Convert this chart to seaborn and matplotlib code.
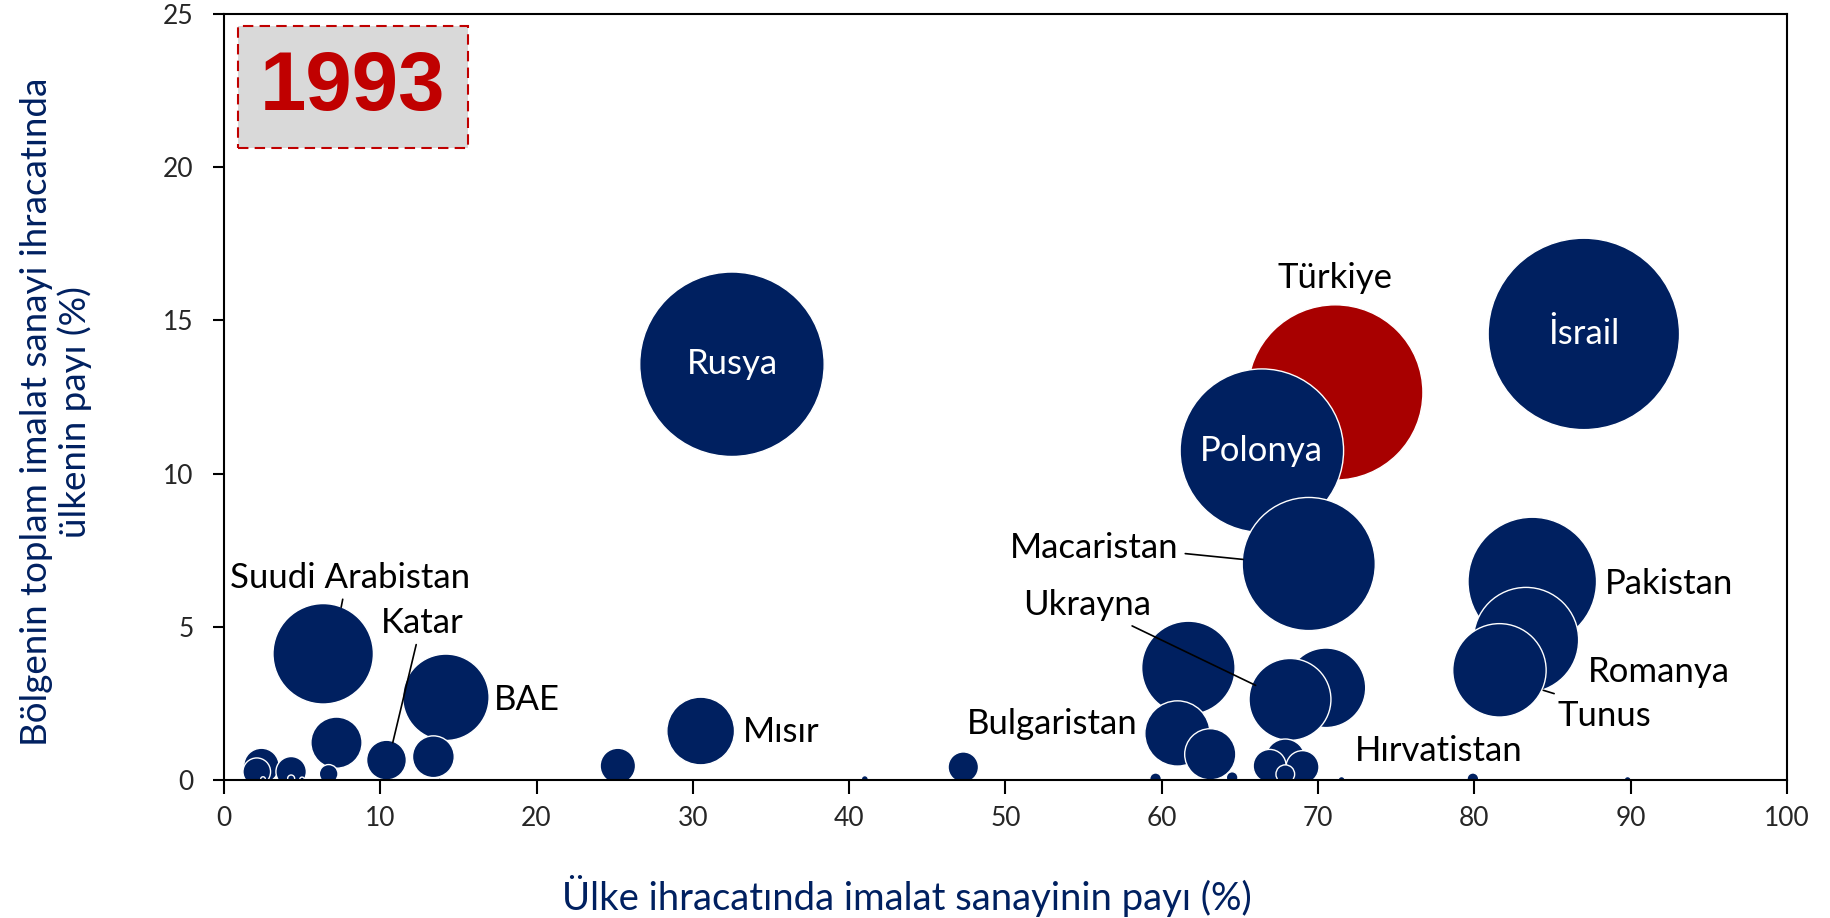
import matplotlib
matplotlib.use('Agg')
import matplotlib.pyplot as plt
import seaborn as sns
import pandas as pd
from matplotlib.patches import Rectangle
from matplotlib import font_manager

# Veriler (çizim sırasına göre; üst üste binme sırası önemli)
ulkeler = ['İsrail', 'Rusya', 'Türkiye', 'Polonya', 'Macaristan', 'Pakistan',
           'Romanya', 'Tunus', 'Suudi Arabistan', 'BAE', 'u1', 'u2', 'Ukrayna',
           'Bulgaristan', 'u3', 'Mısır', 'u4', 'u5', 'Katar', 'u6', 'u7', 'u8',
           'u9', 'u10', 'u11', 'u12', 'u13', 'u14', 'u15', 'u16', 'u17',
           'Hırvatistan', 'u18', 'u19', 'u20', 'u21', 'u22', 'u23', 'u24']
imalat_payi = [87.0, 32.5, 71.1, 66.4, 69.4, 83.7,
               83.3, 81.6, 6.35, 14.2, 61.7, 70.5, 68.2,
               61.0, 63.1, 30.5, 7.2, 13.4, 10.4, 67.9, 66.9, 69.0,
               67.9, 25.2, 47.3, 2.4, 4.3, 2.1, 6.7, 59.6, 64.5,
               79.9, 71.5, 89.8, 41.0, 4.3, 5.0, 2.5, 13.8]
bolge_payi = [14.56, 13.57, 12.65, 10.75, 7.05, 6.48,
              4.57, 3.58, 4.12, 2.70, 3.66, 3.01, 2.63,
              1.52, 0.84, 1.60, 1.22, 0.76, 0.65, 0.69, 0.46, 0.42,
              0.19, 0.46, 0.42, 0.46, 0.27, 0.27, 0.20, 0.04, 0.08,
              0.04, 0.00, 0.00, 0.03, 0.05, 0.02, 0.03, 0.00]
buyukluk = [67.2, 62.4, 56.3, 49.0, 32.5, 30.3,
            20.3, 16.0, 18.5, 13.7, 16.0, 11.6, 12.3,
            7.8, 4.8, 8.4, 4.8, 3.2, 2.9, 2.9, 2.0, 2.0,
            0.64, 2.3, 1.7, 2.3, 1.7, 1.4, 0.64, 0.25, 0.25,
            0.25, 0.09, 0.09, 0.09, 0.09, 0.04, 0.04, 0.03]

df = pd.DataFrame({'ulke': ulkeler, 'x': imalat_payi, 'y': bolge_payi,
                   'b': buyukluk})
df['grup'] = ['Türkiye' if u == 'Türkiye' else 'Diğer' for u in df.ulke]

lacivert = '#002060'
kirmizi = '#A80000'

mevcut = {f.name for f in font_manager.fontManager.ttflist}
etiket_font = 'Lato' if 'Lato' in mevcut else 'DejaVu Sans'

sns.set_style('white')
plt.rcParams['font.family'] = etiket_font

fig = plt.figure(figsize=(18.31, 9.18), dpi=100)
ax = fig.add_axes([0.1223, 0.1503, 0.8537, 0.8344])

sns.scatterplot(data=df, x='x', y='y', size='b', sizes=(0, 28270),
                size_norm=(0, 100), hue='grup',
                palette={'Türkiye': kirmizi, 'Diğer': lacivert},
                edgecolor='white', linewidth=1.0, alpha=1, legend=False, ax=ax)

ax.set_xlim(0, 100)
ax.set_ylim(0, 25)
ax.set_xticks(range(0, 101, 10))
ax.set_yticks(range(0, 26, 5))
ax.tick_params(axis='both', labelsize=19, width=1.5, direction='out',
               left=True, bottom=True, color='black')
ax.tick_params(axis='x', length=10, pad=9)
ax.tick_params(axis='y', length=8, pad=14)
for s in ax.spines.values():
    s.set_color('black')
    s.set_linewidth(1.5)

ax.set_xlabel('')
ax.set_ylabel('')
fig.text(0.4955, 0.024, 'Ülke ihracatında imalat sanayinin payı (%)',
         fontsize=27.5, color=lacivert, ha='center', va='center')
fig.text(0.0306, 0.551,
         'Bölgenin toplam imalat sanayi ihracatında\nülkenin payı (%)',
         fontsize=26.5, color=lacivert, ha='center', va='center',
         rotation=90, linespacing=1.15)

# Yıl kutusu
ax.add_patch(Rectangle((0.009, 0.825), 0.147, 0.159, transform=ax.transAxes,
                       facecolor='#D9D9D9', edgecolor='#C00000', lw=1.5,
                       linestyle=(0, (5, 3)), zorder=5))
ax.text(0.0825, 0.903, '1993', transform=ax.transAxes, ha='center',
        va='center', fontsize=60, fontweight='bold', color='#C00000',
        family='Liberation Sans', zorder=6)

fs = 25
# Balon içi etiketler
for ad in ['Rusya', 'Polonya', 'İsrail']:
    r = df[df.ulke == ad].iloc[0]
    ax.text(r.x, r.y, ad, ha='center', va='center', color='white',
            fontsize=fs, zorder=7)

# Dış etiketler
dis_etiketler = {
    'Türkiye': (71.1, 16.39), 'Macaristan': (55.7, 7.58),
    'Ukrayna': (55.2, 5.72), 'Pakistan': (92.45, 6.4),
    'Romanya': (91.8, 3.54), 'Tunus': (88.3, 2.1),
    'Bulgaristan': (53.0, 1.83), 'Hırvatistan': (77.7, 0.95),
    'Mısır': (35.65, 1.56), 'BAE': (19.4, 2.6), 'Katar': (12.7, 5.14),
    'Suudi Arabistan': (8.07, 6.59),
}
for ad, (tx, ty) in dis_etiketler.items():
    ax.text(tx, ty, ad, ha='center', va='center', color='black',
            fontsize=fs, zorder=7)

# Bağlantı çizgileri
cizgiler = [((61.5, 7.39), (65.2, 7.2)), ((58.1, 5.03), (66.0, 3.09)),
            ((84.4, 2.93), (85.1, 2.82)), ((12.3, 4.42), (10.8, 1.22)),
            ((7.6, 5.9), (7.5, 5.64))]
for (x0, y0), (x1, y1) in cizgiler:
    ax.plot([x0, x1], [y0, y1], color='black', lw=1.2, zorder=6)

fig.savefig('out.png', dpi=100)
